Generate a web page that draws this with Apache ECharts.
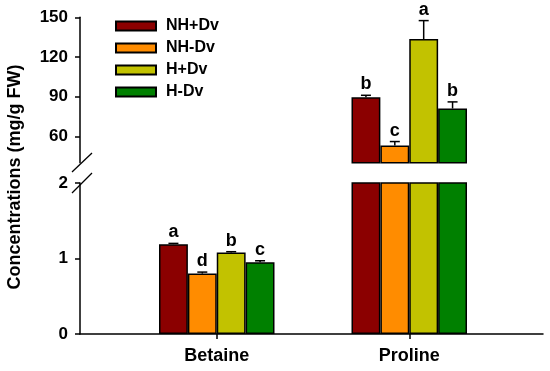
<!DOCTYPE html>
<html>
<head>
<meta charset="utf-8">
<script src="https://cdn.jsdelivr.net/npm/echarts@6/dist/echarts.min.js"></script>
<style>html,body{margin:0;padding:0;background:#fff}#c{width:550px;height:371px}</style>
</head>
<body>
<div id="c"></div>
<script>
const categories = ['Betaine', 'Proline'];
const groups = ['NH+Dv', 'NH-Dv', 'H+Dv', 'H-Dv'];
const colors = ['#8B0000', '#FF8C00', '#C2C200', '#008000'];
const betaine = [1.19, 0.80, 1.08, 0.95];
const betaineErr = [0.01, 0.02, 0.01, 0.02];
const betaineLetters = ['a', 'd', 'b', 'c'];
const proline = [89.5, 53, 133.5, 81];
const prolineErr = [1.5, 3, 14, 5];
const prolineLetters = ['b', 'c', 'a', 'b'];
const upperTicks = [60, 90, 120, 150];

const FONT = '"Liberation Sans", Arial, sans-serif';
const axisLineStyle = { color: '#000', width: 1.5 };
const BAR_CAT_GAP = 0.4;

const chart = echarts.init(document.getElementById('c'), null, { renderer: 'canvas' });

function errRender(letters) {
  return function (params, api) {
    const cat = api.value(0), g = api.value(1), v = api.value(2), e = api.value(3);
    const band = api.size([1, 0])[0];
    const bw = band * (1 - BAR_CAT_GAP) / groups.length;
    const p0 = api.coord([cat, v]);
    const p1 = api.coord([cat, v + e]);
    const x = p0[0] + (g - (groups.length - 1) / 2) * bw;
    const st = { stroke: '#000', lineWidth: 1.5 };
    return {
      type: 'group',
      children: [
        { type: 'line', shape: { x1: x, y1: p0[1], x2: x, y2: p1[1] }, style: st },
        { type: 'line', shape: { x1: x - 5, y1: p1[1], x2: x + 5, y2: p1[1] }, style: st },
        { type: 'text', style: { text: letters[params.dataIndex], x: x, y: p1[1] - 2, align: 'center', verticalAlign: 'bottom', font: 'bold 18px ' + FONT, fill: '#000' } }
      ]
    };
  };
}

const series = [];
groups.forEach((g, i) => {
  series.push({
    name: g, type: 'bar', xAxisIndex: 0, yAxisIndex: 0,
    barGap: '0%', barCategoryGap: (BAR_CAT_GAP * 100) + '%',
    data: ['-', proline[i]],
    itemStyle: { color: colors[i], borderColor: '#000', borderWidth: 1.5 },
    clip: true, silent: true
  });
  series.push({
    name: g, type: 'bar', xAxisIndex: 1, yAxisIndex: 1,
    barGap: '0%', barCategoryGap: (BAR_CAT_GAP * 100) + '%',
    data: [betaine[i], proline[i]],
    itemStyle: { color: colors[i], borderColor: '#000', borderWidth: 1.5 },
    clip: true, silent: true
  });
});
series.push({
  name: 'errUpper', type: 'custom', xAxisIndex: 0, yAxisIndex: 0, clip: false, z: 5,
  renderItem: errRender(prolineLetters),
  data: proline.map((v, i) => [1, i, v, prolineErr[i]])
});
series.push({
  name: 'errLower', type: 'custom', xAxisIndex: 1, yAxisIndex: 1, clip: false, z: 5,
  renderItem: errRender(betaineLetters),
  data: betaine.map((v, i) => [0, i, v, betaineErr[i]])
});

const option = {
  animation: false,
  backgroundColor: '#fff',
  textStyle: { fontFamily: FONT },
  legend: {
    data: groups, orient: 'vertical', left: 110, top: 13,
    itemWidth: 40, itemHeight: 9, itemGap: 6, icon: 'rect',
    textStyle: { fontSize: 16, fontWeight: 'bold', color: '#000', fontFamily: FONT, lineHeight: 14, padding: [0, 0, 0, 5] }
  },
  grid: [
    { left: 120.5, right: 44.5, top: 17.3, height: 145.4 },
    { left: 120.5, right: 44.5, top: 183, height: 151 },
    { left: 80, right: 7, top: 183, height: 151 }
  ],
  xAxis: [
    { type: 'category', gridIndex: 0, data: categories, show: false },
    {
      type: 'category', gridIndex: 1, data: categories,
      axisLine: { show: false },
      axisTick: { show: true, alignWithLabel: true, length: 5, lineStyle: axisLineStyle },
      axisLabel: { fontSize: 18, fontWeight: 'bold', color: '#000', fontFamily: FONT, margin: 13 }
    },
    {
      type: 'value', gridIndex: 2, min: 0, max: 1,
      axisLine: { show: true, lineStyle: axisLineStyle },
      axisTick: { show: false }, axisLabel: { show: false }, splitLine: { show: false }
    }
  ],
  yAxis: [
    {
      type: 'value', gridIndex: 0, min: 40, max: 150, offset: 40.5,
      axisLine: { show: true, lineStyle: axisLineStyle },
      axisTick: { show: true, length: 5, lineStyle: axisLineStyle, customValues: upperTicks },
      axisLabel: { fontSize: 17, fontWeight: 'bold', color: '#000', fontFamily: FONT, margin: 12, customValues: upperTicks },
      splitLine: { show: false }
    },
    {
      type: 'value', gridIndex: 1, min: 0, max: 2, interval: 1, offset: 40.5,
      axisLine: { show: true, lineStyle: axisLineStyle },
      axisTick: { show: true, length: 5, lineStyle: axisLineStyle },
      axisLabel: { fontSize: 17, fontWeight: 'bold', color: '#000', fontFamily: FONT, margin: 12 },
      splitLine: { show: false }
    },
    { type: 'value', gridIndex: 2, min: 0, max: 1, show: false }
  ],
  graphic: [
    { type: 'line', shape: { x1: 72, y1: 172, x2: 92, y2: 153 }, style: { stroke: '#000', lineWidth: 1.3 } },
    { type: 'line', shape: { x1: 72, y1: 193, x2: 92, y2: 173 }, style: { stroke: '#000', lineWidth: 1.3 } },
    {
      type: 'text', x: 15, y: 177, rotation: Math.PI / 2,
      style: { text: 'Concentrations (mg/g FW)', align: 'center', verticalAlign: 'middle', font: 'bold 18px ' + FONT, fill: '#000' }
    }
  ],
  series: series
};
chart.setOption(option);
</script>
</body>
</html>
